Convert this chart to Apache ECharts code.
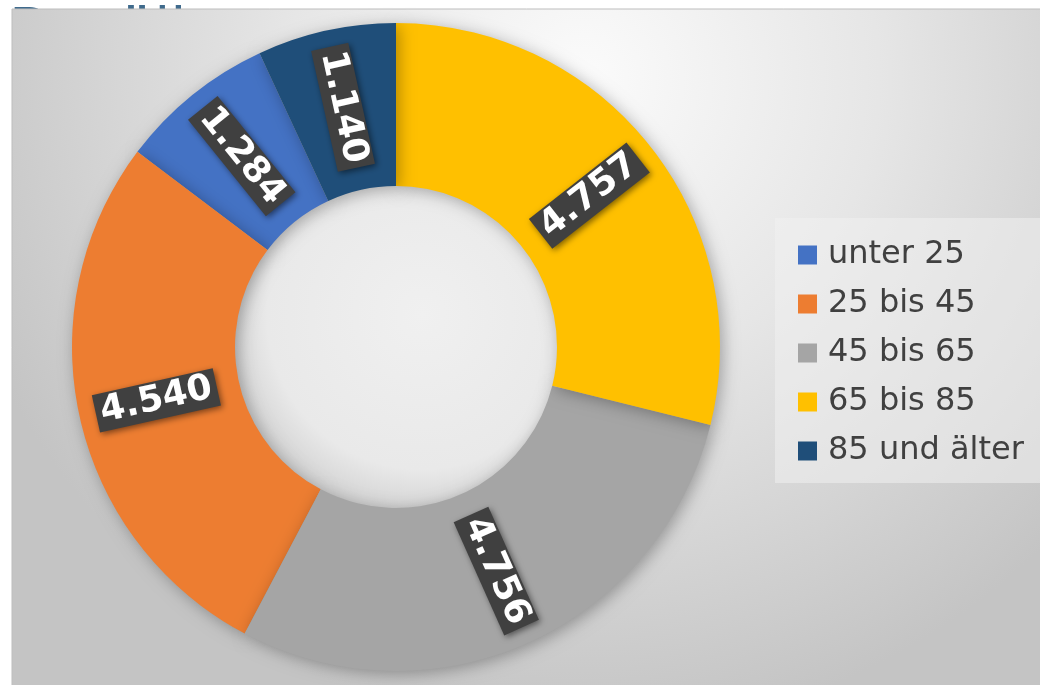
<!DOCTYPE html>
<html>
<head>
<meta charset="utf-8">
<script src="https://cdn.jsdelivr.net/npm/echarts@6/dist/echarts.min.js"></script>
<style>
  html, body { margin: 0; padding: 0; background: #fff; }
  #chart { width: 1040px; height: 685px; }
</style>
</head>
<body>
<div id="chart"></div>
<script>
// Altersgruppen (Legendenreihenfolge) und Werte
var categories = ['unter 25', '25 bis 45', '45 bis 65', '65 bis 85', '85 und älter']
var values = [1284, 4540, 4756, 4757, 1140]
var colors = ['#4472C4', '#ED7D31', '#A5A5A5', '#FFC000', '#1F4E79']

var center = [396, 347]
var innerR = 161
var outerR = 324

// Start so, dass "85 und älter" oben links direkt an 12 Uhr endet
var total = values.reduce(function (a, b) { return a + b }, 0)
var startAngle = 90 + values[values.length - 1] / total * 360

function fmt(v) {
  return String(v).replace(/\B(?=(\d{3})+(?!\d))/g, '.')
}

var myChart = echarts.init(document.getElementById('chart'))
myChart.setOption({
  animation: false,
  color: colors,
  graphic: [
    {
      type: 'text',
      z: 0,
      left: 9,
      top: 6,
      style: {
        text: 'Bevölkerung',
        font: '58px "DejaVu Sans"',
        fill: '#3f6a8c'
      }
    },
    {
      type: 'rect',
      z: 1,
      shape: { x: 12, y: 9, width: 1040, height: 690 },
      style: {
        fill: new echarts.graphic.RadialGradient(0.55, 0.1, 0.95, [
          { offset: 0, color: '#fbfbfb' },
          { offset: 0.45, color: '#e6e6e6' },
          { offset: 1, color: '#c4c4c4' }
        ]),
        stroke: '#bdbdbd',
        lineWidth: 1
      }
    },
    {
      type: 'circle',
      z: 1,
      shape: { cx: center[0], cy: center[1], r: innerR },
      style: {
        fill: new echarts.graphic.RadialGradient(0.58, 0.4, 0.6, [
          { offset: 0, color: '#f0f0f0' },
          { offset: 0.8, color: '#e9e9e9' },
          { offset: 1, color: '#d6d6d6' }
        ])
      }
    }
  ],
  legend: {
    orient: 'vertical',
    left: 775,
    top: 218,
    padding: [21, 17, 16, 23],
    backgroundColor: 'rgba(240,240,240,0.55)',
    icon: 'rect',
    itemWidth: 19,
    itemHeight: 19,
    itemGap: 17,
    data: categories,
    textStyle: {
      fontFamily: 'DejaVu Sans',
      fontSize: 32,
      lineHeight: 32,
      color: '#404040',
      padding: [0, 0, 0, 6]
    }
  },
  series: [
    {
      type: 'pie',
      center: center,
      radius: [innerR, outerR],
      startAngle: startAngle,
      clockwise: false,
      emphasis: { disabled: true },
      itemStyle: {
        shadowBlur: 16,
        shadowColor: 'rgba(0,0,0,0.3)',
        shadowOffsetX: 3,
        shadowOffsetY: 3
      },
      label: {
        show: true,
        position: 'inside',
        rotate: 'radial',
        formatter: function (p) { return fmt(p.value) },
        fontFamily: 'DejaVu Sans',
        fontWeight: 'bold',
        fontSize: 36,
        color: '#ffffff',
        backgroundColor: '#404040',
        padding: [2, 5, 0, 5],
        shadowBlur: 6,
        shadowColor: 'rgba(0,0,0,0.5)',
        shadowOffsetX: 2,
        shadowOffsetY: 2
      },
      labelLine: { show: false },
      data: categories.map(function (c, i) {
        return { name: c, value: values[i] }
      })
    }
  ]
})
</script>
</body>
</html>
